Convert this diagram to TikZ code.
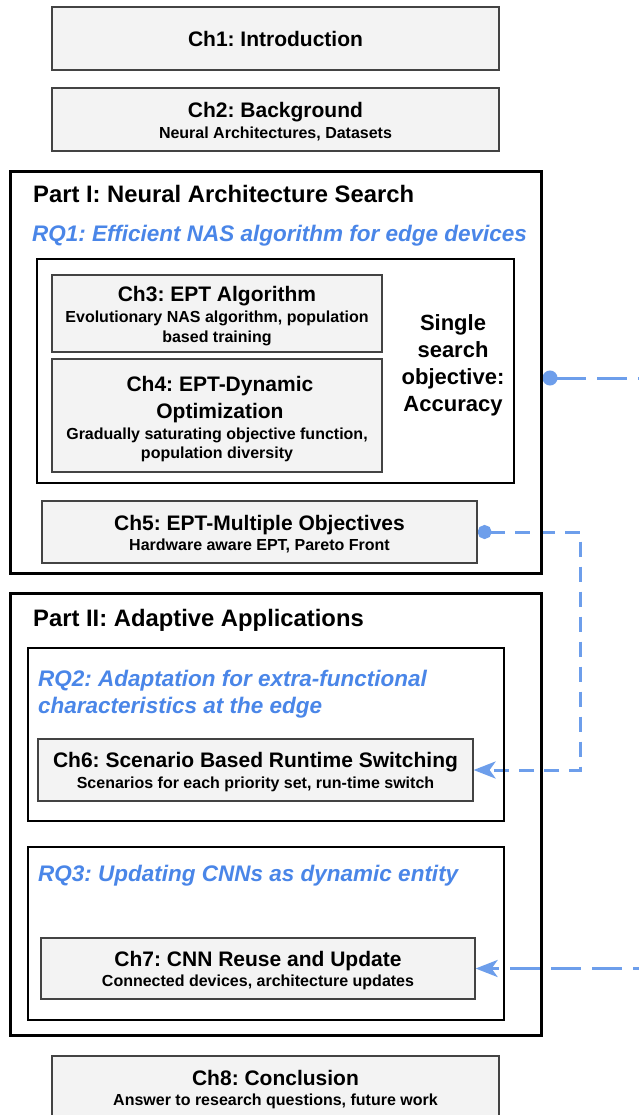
\documentclass[tikz,border=0pt]{standalone}
\usepackage{fontspec}
\setmainfont{Liberation Sans}
\usetikzlibrary{arrows.meta,backgrounds}
\frenchspacing

\definecolor{chfill}{HTML}{F3F3F3}
\definecolor{chline}{HTML}{434343}
\definecolor{rqblue}{HTML}{4A86E8}
\definecolor{linkblue}{HTML}{6D9EEB}

\newcommand{\chhead}[1][19.5pt]{\fontsize{21}{25}\selectfont\rule{0pt}{#1}}

\begin{document}
\begin{tikzpicture}[x = 1pt, y = -1pt,
                    chbox/.style = {draw = chline, line width = 1.2pt, fill = chfill, inner sep = 0pt,
                                    align = center, font = \fontsize{16}{19.5}\selectfont\bfseries},
                    partbox/.style = {draw, line width = 3pt, inner sep = 0pt},
                    rqbox/.style = {draw, line width = 2pt, inner sep = 0pt},
                    parttitle/.style = {inner sep = 0pt, anchor = base west, font = \fontsize{23.8}{28}\selectfont\bfseries},
                    rq/.style = {inner sep = 0pt, text = rqblue, align = left, font = \fontsize{22.5}{27}\selectfont\bfseries\itshape},
                    link/.style = {draw = linkblue, line width = 3pt},
                    longdash/.style = {dash pattern = on 30pt off 11pt},
                    shortdash/.style = {dash pattern = on 15pt off 10pt}]
      \clip (0, 0) rectangle (639, 1115);

      \node [chbox, minimum width = 447pt, minimum height = 63pt] (ch1) at (275.5, 38.5)
            {\fontsize{21}{25}\selectfont Ch1: Introduction};
      \node [chbox, minimum width = 447pt, minimum height = 63pt] (ch2) at (275.5, 119.5)
            {\chhead Ch2: Background\\[1pt] Neural Architectures, Datasets};

      \node [partbox, minimum width = 531pt, minimum height = 401pt] (part1) at (275.5, 372.5){};
      \node [parttitle] (part1title) at (33, 203){Part I: Neural Architecture Search};
      \node [rq, anchor = base west] (rq1) at (32, 241){RQ1: Efficient NAS algorithm for edge devices};
      \node [rqbox, minimum width = 477pt, minimum height = 224pt] (sobox) at (275.5, 371){};
      \node [chbox, minimum width = 330pt, minimum height = 77pt] (ch3) at (217, 313.5)
            {\chhead Ch3: EPT Algorithm\\[2pt] Evolutionary NAS algorithm, population\\ based training};
      \node [chbox, minimum width = 330pt, minimum height = 113pt] (ch4) at (217, 415.5)
            {\chhead[23pt] Ch4: EPT-Dynamic\\[6.5pt] \chhead[0pt] Optimization\\[1pt]
             Gradually saturating objective function,\\ population diversity};
      \node [inner sep = 0pt, align = center, font = \fontsize{22}{27}\selectfont\bfseries] (objective) at (453, 365.5)
            {Single\\search\\objective:\\Accuracy};
      \node [chbox, minimum width = 435pt, minimum height = 62pt] (ch5) at (259.5, 532)
            {\chhead Ch5: EPT-Multiple Objectives\\[1pt] Hardware aware EPT, Pareto Front};

      \node [partbox, minimum width = 531pt, minimum height = 442pt] (part2) at (275.5, 814){};
      \node [parttitle] (part2title) at (33, 626){Part II: Adaptive Applications};
      \node [rqbox, minimum width = 476pt, minimum height = 173pt] (rq2box) at (266, 734.5){};
      \node [rq, anchor = west] (rq2) at (38, 694.5){RQ2: Adaptation for extra-functional\\characteristics at the edge};
      \node [chbox, minimum width = 435pt, minimum height = 62pt] (ch6) at (255.5, 770)
            {\chhead Ch6: Scenario Based Runtime Switching\\[1pt] Scenarios for each priority set, run-time switch};
      \node [rqbox, minimum width = 476pt, minimum height = 173pt] (rq3box) at (266, 933.5){};
      \node [rq, anchor = base west] (rq3) at (38, 881){RQ3: Updating CNNs as dynamic entity};
      \node [chbox, minimum width = 434pt, minimum height = 61pt] (ch7) at (258, 968.5)
            {\chhead Ch7: CNN Reuse and Update\\[1pt] Connected devices, architecture updates};

      \node [chbox, minimum width = 447pt, minimum height = 63pt] (ch8) at (275.5, 1087.5)
            {\chhead Ch8: Conclusion\\[1pt] Answer to research questions, future work};

      \begin{pgfonlayer}{background}
      \fill [white] (0, 0) rectangle (639, 1115);
      \draw [link, longdash, {Circle[length = 15pt]}-{Stealth[length = 22pt, width = 17pt, inset = 6pt]}]
            ([yshift = -5.5pt]part1.east) -- ++(120, 0) |- (ch7.east);
      \draw [link, shortdash, {Circle[length = 14pt]}-{Stealth[length = 22pt, width = 17pt, inset = 6pt]}]
            (ch5.east) -- ++(103, 0) |- (ch6.east);
      \end{pgfonlayer}
      \end{tikzpicture}
\end{document}
